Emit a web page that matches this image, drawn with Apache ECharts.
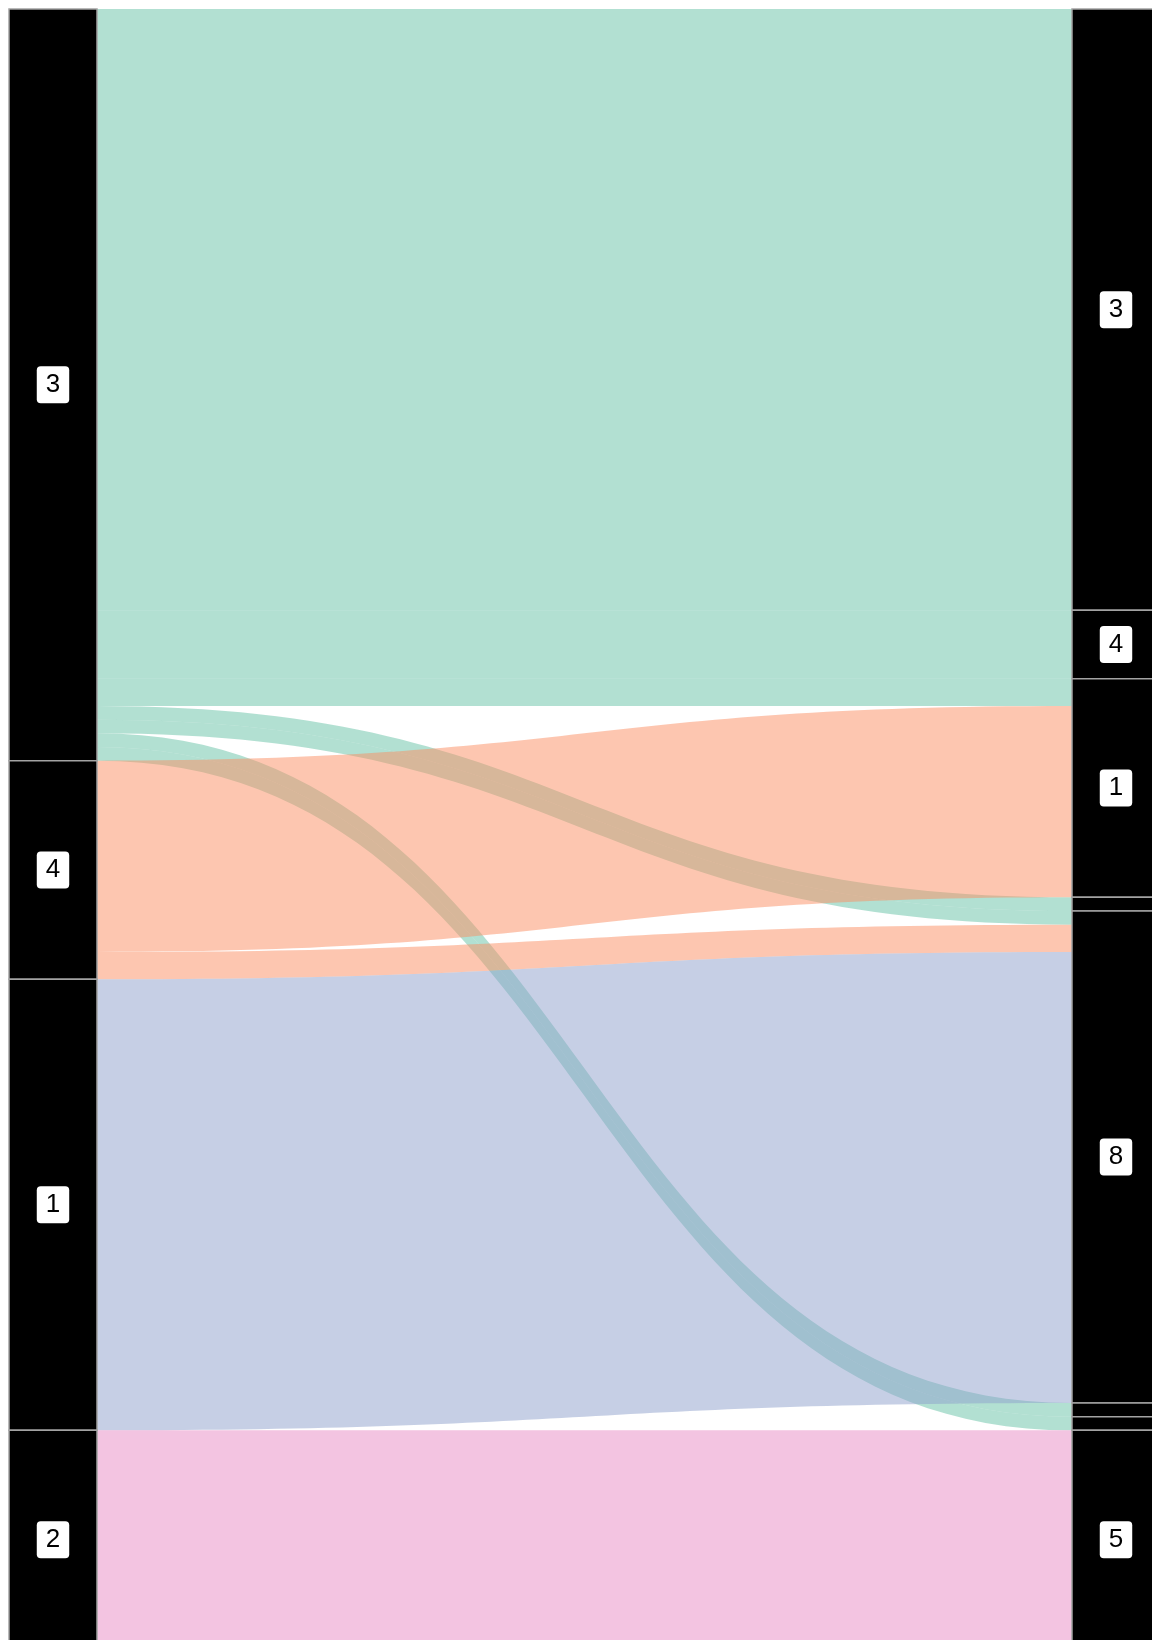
<!DOCTYPE html>
<html>
<head>
<meta charset="utf-8">
<script src="https://cdn.jsdelivr.net/npm/echarts@6/dist/echarts.min.js"></script>
<style>
html,body{margin:0;padding:0;background:#fff;}
#chart{width:1152px;height:1640px;}
</style>
</head>
<body>
<div id="chart"></div>
<script>
// Strata (node ids and displayed labels), top to bottom
const leftIds = ['L3', 'L4', 'L1', 'L2'];
const leftLabels = ['3', '4', '1', '2'];
const rightIds = ['R3', 'R4', 'R1', 'Ra', 'R8', 'Rb', 'Rc', 'R5'];
const rightLabels = ['3', '4', '1', '', '8', '', '', '5'];

// Flows (alluvia)
const flowSource = ['L3', 'L3', 'L3', 'L3', 'L3', 'L3', 'L3', 'L4', 'L4', 'L1', 'L2'];
const flowTarget = ['R3', 'R4', 'R1', 'Ra', 'R8', 'Rb', 'Rc', 'R1', 'R8', 'R8', 'R5'];
const flowValue  = [44, 5, 2, 1, 1, 1, 1, 14, 2, 33, 16];

// Fill colour per source stratum
const sourceColor = { L3: '#66c2a5', L4: '#fc8d62', L1: '#8da0cb', L2: '#e78ac3' };

const labelStyle = {
  show: true,
  position: 'inside',
  color: '#000',
  fontFamily: 'Liberation Sans, Arial, sans-serif',
  fontSize: 26,
  backgroundColor: '#fff',
  borderRadius: 4,
  padding: [6, 9, 5, 9]
};

const nodes = [];
leftIds.forEach((id, i) => nodes.push({ name: id, depth: 0, label: Object.assign({}, labelStyle, { show: leftLabels[i] !== '', formatter: leftLabels[i] }) }));
rightIds.forEach((id, i) => nodes.push({ name: id, depth: 1, label: Object.assign({}, labelStyle, { show: rightLabels[i] !== '', formatter: rightLabels[i] || ' ' }) }));

const links = flowSource.map((s, i) => ({
  source: s,
  target: flowTarget[i],
  value: flowValue[i],
  lineStyle: { color: sourceColor[s], opacity: 0.5, curveness: 0.5 }
}));

const chart = echarts.init(document.getElementById('chart'), null, { renderer: 'canvas' });
chart.setOption({
  animation: false,
  backgroundColor: '#fff',
  series: [{
    type: 'sankey',
    left: 9,
    top: 9,
    width: 1151,
    height: 1640,
    nodeWidth: 88,
    nodeGap: 0,
    layoutIterations: 0,
    draggable: false,
    nodeAlign: 'justify',
    emphasis: { disabled: true },
    itemStyle: { color: '#000', borderColor: '#a3a3a3', borderWidth: 1.5 },
    label: labelStyle,
    data: nodes,
    links: links
  }]
});
</script>
</body>
</html>
